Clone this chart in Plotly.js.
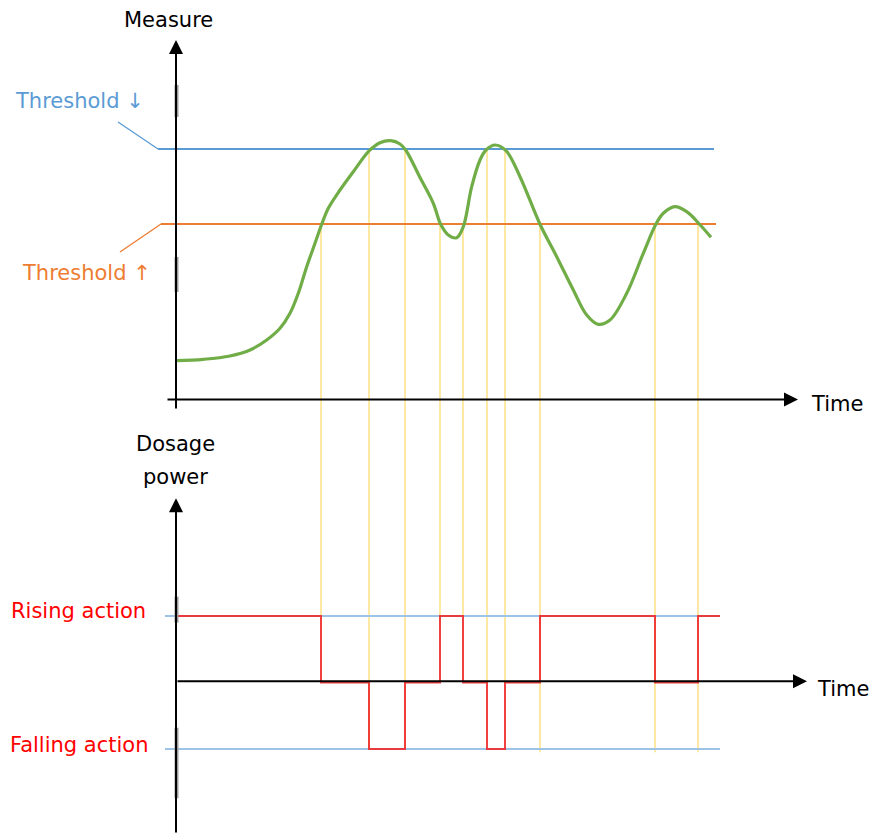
<!DOCTYPE html>
<html><head><meta charset="utf-8">
<script src="https://cdn.plot.ly/plotly-3.0.1.min.js"></script>
<style>html,body{margin:0;padding:0;background:#fff}#chart{width:873px;height:834px}</style>
</head><body><div id="chart"></div>
<script>
// ---- Data (time units, measure units, dosage levels) ----
const curveTime = [0, 2.73, 5.4, 7.4, 9.07, 10.4, 11.4, 12.23, 13.07, 13.9, 14.57, 15.23, 16.4, 17.73, 19.33, 20.4, 21.47, 22.4, 23.0, 24.4, 25.73, 26.47, 27.23, 28.07, 28.73, 29.57, 30.4, 31.0, 31.9, 33.0, 34.4, 36.4, 38.07, 39.73, 41.07, 42.23, 43.4, 45.07, 46.73, 48.0, 48.73, 49.9, 51.07, 52.33, 53.5];
const curveMeasure = [3.93, 4.07, 4.4, 5.0, 6.0, 7.17, 8.67, 10.67, 13.33, 15.67, 17.57, 19.17, 21.0, 22.83, 24.93, 25.73, 25.93, 25.6, 24.95, 22.25, 19.67, 17.57, 16.5, 16.23, 17.33, 21.33, 24.0, 25.0, 25.5, 24.93, 22.33, 17.58, 14.33, 11.0, 8.5, 7.57, 8.0, 10.67, 14.67, 17.6, 18.67, 19.33, 18.83, 17.6, 16.27];

const thresholdDown = 25.1;
const thresholdUp = 17.6;
const thresholdDownSpan = [-1.8, 53.8];
const thresholdUpSpan = [-1.5, 54.0];

const crossingTimes = [14.5, 19.3, 22.9, 26.4, 28.7, 31.1, 32.9, 36.4, 47.9, 52.2];
const crossingWhich = ['up', 'down', 'down', 'up', 'up', 'down', 'down', 'up', 'up', 'up'];
const crossingDosageEnd = [1, -1, -1, 1, 1, 0, 0, -1.05, -1.05, -1.05];

const risingLevel = 1;
const fallingLevel = -1;
const levelSpan = [-1.1, 54.4];
const dosageTime = [0, 14.5, 19.3, 22.9, 26.4, 28.7, 31.1, 32.9, 36.4, 47.9, 52.2, 54.4];
const dosageLevel = [1, 0, -1, 0, 1, 0, -1, 0, 1, 0, 1, 1];

const labelMeasure = 'Measure';
const labelTime = 'Time';
const labelDosage1 = 'Dosage';
const labelDosage2 = 'power';
const labelThrDown = 'Threshold ↓';
const labelThrUp = 'Threshold ↑';
const labelRising = 'Rising action';
const labelFalling = 'Falling action';

// ---- Layout geometry ----
const W = 873, H = 834;
const xRange = [-17.6, 69.7];
const yRange = [-2, 40];
const y2Range = [-2.278, 3.947];
const split = 1 - 420 / H;
const P = px => px / W, Q = py => 1 - py / H;

const BLUE = '#5B9BD5', ORANGE = '#ED7D31', GREEN = '#70AD47', YELLOW = '#FFD966', RED = '#EE2B2B', LBLUE = '#9DC3E6';
const FONT = 'DejaVu Sans, Verdana, sans-serif';

// yellow verticals (top and bottom parts)
const yTopX = [], yTopY = [], yBotX = [], yBotY = [];
crossingTimes.forEach((t, i) => {
  const lvl = crossingWhich[i] === 'up' ? thresholdUp : thresholdDown;
  yTopX.push(t, t, null); yTopY.push(lvl, yRange[0], null);
  yBotX.push(t, t, null); yBotY.push(y2Range[1], crossingDosageEnd[i], null);
});

const traces = [
  {x: yTopX, y: yTopY, xaxis: 'x', yaxis: 'y', mode: 'lines', line: {color: YELLOW, width: 1.2}, hoverinfo: 'skip'},
  {x: yBotX, y: yBotY, xaxis: 'x', yaxis: 'y2', mode: 'lines', line: {color: YELLOW, width: 1.2}, hoverinfo: 'skip'},
  {x: thresholdDownSpan, y: [thresholdDown, thresholdDown], mode: 'lines', line: {color: BLUE, width: 2}},
  {x: thresholdUpSpan, y: [thresholdUp, thresholdUp], mode: 'lines', line: {color: ORANGE, width: 2}},
  {x: [-5.8, thresholdDownSpan[0]], y: [27.8, thresholdDown], mode: 'lines', line: {color: BLUE, width: 1.3}},
  {x: [-5.6, thresholdUpSpan[0]], y: [14.8, thresholdUp], mode: 'lines', line: {color: ORANGE, width: 1.3}},
  {x: levelSpan, y: [risingLevel, risingLevel], yaxis: 'y2', mode: 'lines', line: {color: LBLUE, width: 2.2}},
  {x: levelSpan, y: [fallingLevel, fallingLevel], yaxis: 'y2', mode: 'lines', line: {color: LBLUE, width: 2.2}},
  {x: dosageTime, y: dosageLevel, yaxis: 'y2', mode: 'lines', line: {color: RED, width: 2, shape: 'hv'}, opacity: 0.9},
  {x: curveTime, y: curveMeasure, mode: 'lines', line: {color: GREEN, width: 3.2, shape: 'spline', smoothing: 1}}
];

function arrow(x, y, ax, ay, yref) {
  return {x, y, ax, ay, xref: 'x', yref, axref: 'x', ayref: yref, text: '', showarrow: true,
    arrowhead: 2, arrowsize: 1.4, arrowwidth: 2, arrowcolor: '#000', standoff: 0, startstandoff: 0};
}
function txt(text, px, py, color) {
  return {text, x: P(px), y: Q(py), xref: 'paper', yref: 'paper', showarrow: false,
    font: {family: FONT, size: 21, color}, xanchor: 'center', yanchor: 'middle'};
}

const annotations = [
  arrow(0, 36, 0, -1, 'y'),
  arrow(62.2, 0.05, -1.0, 0.05, 'y'),
  arrow(0, 2.77, 0, y2Range[0], 'y2'),
  arrow(63.1, 0.02, 0, 0.02, 'y2'),
  txt(labelMeasure, 168, 20, '#000'),
  txt(labelTime, 837, 404, '#000'),
  txt(labelTime, 843, 689, '#000'),
  txt(labelDosage1, 175, 444, '#000'),
  txt(labelDosage2, 175, 477, '#000'),
  txt(labelThrDown, 79, 101, BLUE),
  txt(labelThrUp, 86, 273, ORANGE),
  txt(labelRising, 78, 611, '#FF0000'),
  txt(labelFalling, 79, 745, '#FF0000')
];

function grayBar(y0, y1, yref) {
  return {type: 'line', xref: 'x', yref, x0: 0.05, x1: 0.05, y0, y1, line: {color: '#9a9a9a', width: 4}, layer: 'above'};
}
const shapes = [
  grayBar(31.5, 28.3, 'y'),
  grayBar(14.3, 10.8, 'y'),
  grayBar(1.29, 0.9, 'y2'),
  grayBar(-0.68, -1.74, 'y2')
];

const layout = {
  width: W, height: H,
  margin: {l: 0, r: 0, t: 0, b: 0},
  paper_bgcolor: '#fff', plot_bgcolor: '#fff',
  showlegend: false,
  xaxis: {range: xRange, visible: false, fixedrange: true},
  yaxis: {domain: [split, 1], range: yRange, visible: false, fixedrange: true},
  yaxis2: {domain: [0, split], range: y2Range, visible: false, anchor: 'x', fixedrange: true},
  annotations, shapes
};

Plotly.newPlot('chart', traces, layout, {staticPlot: true, displayModeBar: false});
</script>
</body></html>
